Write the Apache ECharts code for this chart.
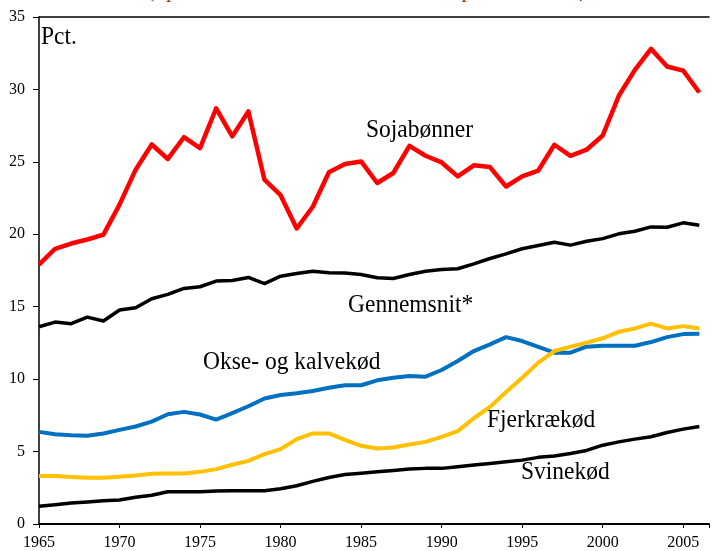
<!DOCTYPE html>
<html>
<head>
<meta charset="utf-8">
<script src="https://cdn.jsdelivr.net/npm/echarts@6/dist/echarts.min.js"></script>
<style>
  html, body { margin: 0; padding: 0; background: #fff; }
  #main { width: 712px; height: 551px; }
</style>
</head>
<body>
<div id="main"></div>
<script>
// år 1965-2006
const years = []
for (let y = 1965; y <= 2006; y++) years.push(y)

const sojabonner = [17.9, 19.0, 19.36, 19.64, 19.98, 22.05, 24.46, 26.2, 25.2, 26.7,
  25.95, 28.7, 26.76, 28.48, 23.77, 22.7, 20.4, 21.9, 24.28, 24.85,
  25.03, 23.54, 24.23, 26.1, 25.42, 24.96, 24.0, 24.76, 24.64, 23.3,
  24.0, 24.4, 26.18, 25.42, 25.84, 26.82, 29.56, 31.35, 32.8, 31.58,
  31.3, 29.79]
const gennemsnit = [13.62, 13.94, 13.83, 14.28, 14.01, 14.77, 14.93, 15.55, 15.85, 16.26,
  16.38, 16.77, 16.81, 17.02, 16.6, 17.11, 17.29, 17.45, 17.34, 17.32,
  17.22, 17.0, 16.95, 17.22, 17.45, 17.57, 17.62, 17.96, 18.33, 18.65,
  19.0, 19.22, 19.45, 19.25, 19.52, 19.7, 20.03, 20.21, 20.51, 20.49,
  20.79, 20.62]
const okse = [6.36, 6.2, 6.13, 6.09, 6.25, 6.5, 6.73, 7.07, 7.58, 7.74,
  7.56, 7.21, 7.65, 8.13, 8.66, 8.91, 9.03, 9.18, 9.41, 9.58,
  9.58, 9.92, 10.1, 10.22, 10.17, 10.63, 11.25, 11.94, 12.4, 12.9,
  12.63, 12.22, 11.83, 11.83, 12.24, 12.31, 12.31, 12.31, 12.56, 12.9,
  13.11, 13.14]
const fjerkrae = [3.31, 3.31, 3.24, 3.19, 3.19, 3.26, 3.35, 3.47, 3.49, 3.49,
  3.6, 3.79, 4.09, 4.36, 4.82, 5.17, 5.86, 6.25, 6.25, 5.81,
  5.4, 5.21, 5.28, 5.49, 5.67, 6.02, 6.41, 7.3, 8.08, 9.12,
  10.1, 11.14, 11.94, 12.24, 12.52, 12.82, 13.27, 13.5, 13.83, 13.5,
  13.66, 13.5]
const svin = [1.22, 1.33, 1.45, 1.52, 1.61, 1.65, 1.84, 1.98, 2.23, 2.23,
  2.23, 2.27, 2.3, 2.3, 2.3, 2.44, 2.64, 2.94, 3.21, 3.42,
  3.51, 3.6, 3.7, 3.79, 3.84, 3.84, 3.95, 4.07, 4.18, 4.3,
  4.41, 4.6, 4.69, 4.87, 5.08, 5.44, 5.67, 5.86, 6.02, 6.32,
  6.55, 6.73]

const serif = 'Liberation Serif'

function pairs(arr) {
  return years.map((y, i) => [y, arr[i]])
}

function lineSeries(name, arr, color, width) {
  return {
    name: name,
    type: 'line',
    data: pairs(arr),
    symbol: 'none',
    smooth: false,
    lineStyle: { color: color, width: width, join: 'round' },
    z: 3
  }
}

// tekstetiketter ved kurverne (lidt strakt lodret som i originalen)
function label(text, x, y) {
  return {
    type: 'text',
    x: x,
    y: y,
    scaleY: 1.08,
    style: {
      text: text,
      font: '23.5px "' + serif + '"',
      fill: '#000',
      verticalAlign: 'middle'
    }
  }
}

const chart = echarts.init(document.getElementById('main'))

chart.setOption({
  animation: false,
  backgroundColor: '#fff',
  grid: { left: 39, right: 0, top: 17, bottom: 26 },
  xAxis: [
    {
      type: 'value',
      min: 1965,
      max: 2006.6,
      interval: 5,
      splitLine: { show: false },
      axisLine: { lineStyle: { color: '#000', width: 2 } },
      axisTick: { length: 4, lineStyle: { color: '#000', width: 1 } },
      axisLabel: {
        color: '#000', fontFamily: serif, fontSize: 16, margin: 11,
        formatter: v => (Number.isInteger(v) ? String(v) : '')
      }
    },
    {
      type: 'value',
      position: 'top',
      min: 1965,
      max: 2006.6,
      splitLine: { show: false },
      axisLine: { lineStyle: { color: '#000', width: 1.5 } },
      axisTick: { show: false },
      axisLabel: { show: false }
    }
  ],
  yAxis: {
    type: 'value',
    min: 0,
    max: 35,
    interval: 5,
    splitLine: { show: false },
    axisLine: { show: true, lineStyle: { color: '#000', width: 1.5 } },
    axisTick: { show: true, length: 6, lineStyle: { color: '#000', width: 1 } },
    axisLabel: { color: '#000', fontFamily: serif, fontSize: 16, margin: 14 }
  },
  series: [
    lineSeries('Sojabønner', sojabonner, '#ff0000', 4.5),
    lineSeries('Gennemsnit*', gennemsnit, '#000000', 3.5),
    lineSeries('Okse- og kalvekød', okse, '#0070c0', 4),
    lineSeries('Fjerkrækød', fjerkrae, '#ffc000', 4),
    lineSeries('Svinekød', svin, '#000000', 3.5)
  ],
  graphic: [
    {
      type: 'text',
      left: 147,
      top: -20,
      style: { text: '(i pct. af den samlede værdi af hele produktionen)', font: '22px "' + serif + '"', fill: '#993300' }
    },
    label('Pct.', 41, 37),
    label('Sojabønner', 366, 130),
    label('Gennemsnit*', 348, 305),
    label('Okse- og kalvekød', 203, 362),
    label('Fjerkrækød', 487, 420),
    label('Svinekød', 521, 472)
  ]
})
</script>
</body>
</html>
